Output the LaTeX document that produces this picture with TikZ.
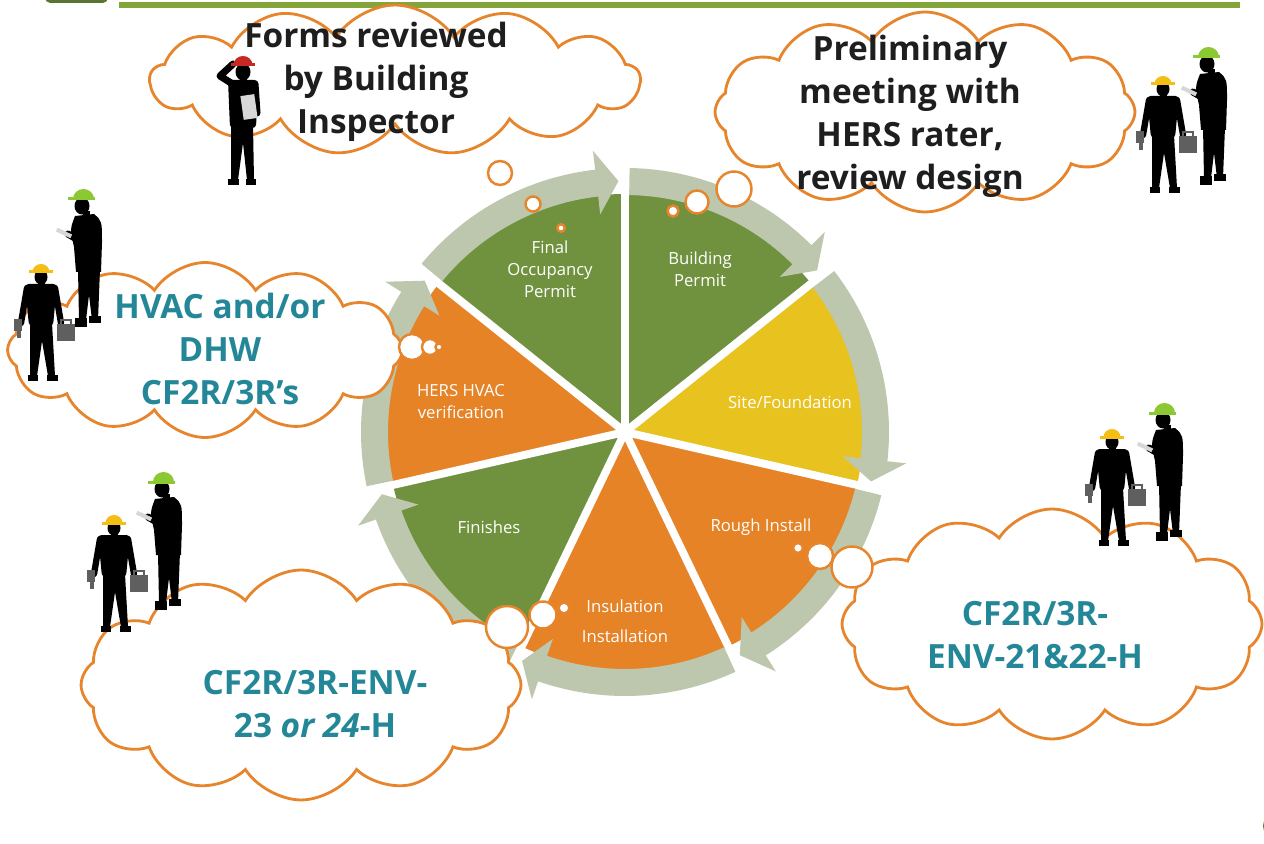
\documentclass[tikz,border=0pt]{standalone}
\usepackage{fontspec}
\setmainfont{Open Sans}
\usetikzlibrary{shapes.symbols, calc}
\definecolor{piegreen}{RGB}{112,146,62}
\definecolor{pieorange}{RGB}{229,131,38}
\definecolor{pieyellow}{RGB}{232,194,30}
\definecolor{ringgray}{RGB}{189,199,173}
\definecolor{cloudorange}{RGB}{231,133,45}
\definecolor{tealink}{RGB}{36,135,152}
\definecolor{inkblack}{RGB}{30,30,30}
\definecolor{topgreen}{RGB}{131,165,58}
\definecolor{logogreen}{RGB}{88,118,48}
\definecolor{hatyellow}{RGB}{245,190,20}
\definecolor{hatgreen}{RGB}{140,200,50}
\definecolor{hatred}{RGB}{200,40,35}
\definecolor{toolgray}{RGB}{95,95,95}
\definecolor{papergray}{RGB}{215,215,215}

\begin{document}
\begin{tikzpicture}[
    x=0.02cm, y=-0.02cm,
    thought/.style={cloud, cloud puffs=12, cloud puff arc=115, cloud ignores aspect, draw=cloudorange, line width=1.6pt, fill=white, inner sep=0pt},
    bubble/.style={circle, draw=cloudorange, line width=1.4pt, fill=white, inner sep=0pt},
    pielabel/.style={text=white, font=\fontsize{9.5}{12.5}\selectfont, align=center},
    cloudtext/.style={font=\fontsize{19}{24.5}\selectfont\bfseries, align=center, text=inkblack},
    formtext/.style={cloudtext, text=tealink},
    % side view, tablet in hand
    pics/foreman/.style={code={
        \fill (-9,-58) -- (13,-58) -- (11,-7) -- (5,-7) -- (2,-32) -- (-1,-7) -- (-8,-7) -- cycle;
        \fill (-12,-9) rectangle (0,0);
        \fill (2,-11) rectangle (14,-4);
        \fill (-12,-111) .. controls (-17,-98) .. (-13,-80) -- (-11,-55) -- (14,-55) -- (15,-85) .. controls (15,-106) .. (7,-113) -- cycle;
        \draw[line width=4pt, line cap=round, line join=round] (-4,-106) -- (-7,-86) -- (-19,-93);
        \fill[papergray, rotate around={-25:(-23,-94)}] (-31,-96) rectangle (-15,-92);
        \fill (-4,-116) rectangle (3,-108);
        \fill (-5,-121) ellipse [x radius=7.5, y radius=8.5];
        \fill[#1] (-14,-128) arc [start angle=180, end angle=360, x radius=10.5, y radius=10] -- cycle;
        \fill[#1] (-19,-129.5) rectangle (8,-126.5);
    }},
    % front view, drill and toolbox
    pics/laborer/.style={code={
        \fill (-11,-58) -- (11,-58) -- (14,-5) -- (7,-5) -- (1,-40) -- (-4,-5) -- (-11,-5) -- cycle;
        \fill (-13,-6) rectangle (-3,0);
        \fill (6,-6) rectangle (17,0);
        \fill[rounded corners=2pt] (-16,-97) -- (16,-97) -- (12,-55) -- (-12,-55) -- cycle;
        \draw[line width=3.6pt, line cap=round] (-14,-93) -- (-20,-58);
        \draw[line width=3.6pt, line cap=round] (14,-93) -- (20,-58);
        \fill[toolgray] (-27,-62) rectangle (-19,-50);
        \fill[toolgray] (-24,-51) rectangle (-20,-43);
        \fill[toolgray] (16,-57) rectangle (34,-40);
        \draw[toolgray, line width=1pt] (20,-57) -- (20,-61) -- (30,-61) -- (30,-57);
        \fill (-3.5,-102) rectangle (3.5,-95);
        \fill (0,-104) ellipse [x radius=6.5, y radius=7.5];
        \fill[#1] (-8.5,-109) arc [start angle=180, end angle=360, x radius=8.5, y radius=8] -- cycle;
        \fill[#1] (-12,-110.5) rectangle (12,-107.5);
    }},
    % scratching head, papers under arm
    pics/inspector/.style={code={
        \fill (-12,-60) -- (10,-60) -- (11,-5) -- (4,-5) -- (0,-42) -- (-5,-5) -- (-12,-5) -- cycle;
        \fill (-15,-6) rectangle (-4,0);
        \fill (3,-6) rectangle (13,0);
        \fill[rounded corners=2pt] (-15,-105) -- (15,-105) -- (13,-57) -- (-13,-57) -- cycle;
        \draw[line width=4pt, line cap=round, line join=round] (-12,-102) -- (-23,-109) -- (-10,-121);
        \draw[line width=4pt, line cap=round] (12,-101) -- (14,-72);
        \fill[papergray, rotate around={8:(6,-78)}] (-1,-90) rectangle (13,-66);
        \fill (-3.5,-109) rectangle (3.5,-102);
        \fill (0,-113) ellipse [x radius=7.5, y radius=8.5];
        \fill[#1] (-9.5,-120) arc [start angle=180, end angle=360, x radius=9.5, y radius=9] -- cycle;
        \fill[#1] (-12,-121.5) rectangle (12,-118.5);
    }}
]
\useasboundingbox (0,0) rectangle (1264,844);
\clip (0,0) rectangle (1264,844);

% header
\fill[logogreen, rounded corners=3pt] (45,-20) rectangle (108,3);
\fill[topgreen] (119,2) rectangle (1240,8);
\fill[logogreen] (1276,826) circle (13);

% Cycle: wedges, gaps, ring arrows
\begin{scope}[shift={(625,432)}, yscale=-1]
  \foreach \col [count=\i from 0] in {piegreen, pieyellow, pieorange, pieorange, piegreen, pieorange, piegreen} {
    \pgfmathsetmacro\a{90-51.4286*\i}
    \fill[\col] (0,0) -- (\a:238) arc [start angle=\a, delta angle=-51.4286, radius=238] -- cycle;
  }
  \foreach \i in {0,...,6} {
    \pgfmathsetmacro\a{90-51.4286*\i}
    \draw[white, line width=4.5pt] (0,0) -- (\a:240);
  }
  \foreach \i in {0,...,6} {
    \pgfmathsetmacro\s{90-51.4286*\i-1}
    \pgfmathsetmacro\t{90-51.4286*(\i+1)+1.5}
    \pgfmathsetmacro\h{\t+5}
    \fill[ringgray] (\s:237) arc [start angle=\s, end angle=\h, radius=237] -- (\h:219) -- (\t:251) -- (\h:283) -- (\h:264) arc [start angle=\h, end angle=\s, radius=264] -- cycle;
  }
\end{scope}

% Stage labels
\node[pielabel] (final) at (550,269) {Final\\Occupancy\\Permit};
\node[pielabel] (permit) at (700,269) {Building\\Permit};
\node[pielabel] (site) at (790,402) {Site/Foundation};
\node[pielabel] (rough) at (761,527) {Rough Install};
\node[pielabel] (insul) at (625,621) {Insulation\\[4.5pt]Installation};
\node[pielabel] (finish) at (489,527) {Finishes};
\node[pielabel] (hers) at (461,402) {HERS HVAC\\verification};

% Thought clouds
\node[thought, cloud puffs=13, minimum width=9.8cm, minimum height=3.0cm] (cinspect) at (395,80) {};
\node[thought, minimum width=8.4cm, minimum height=4.0cm] (cprelim) at (925,112) {};
\node[thought, minimum width=7.9cm, minimum height=3.5cm] (chvac) at (205,350) {};
\node[thought, minimum width=8.4cm, minimum height=4.6cm] (cenvA) at (1052,624) {};
\node[thought, minimum width=8.8cm, minimum height=4.6cm] (cenvB) at (301,685) {};

% bubbles leading to the wedges
\node[bubble, minimum size=0.48cm] (bi1) at (500,173) {};
\node[bubble, minimum size=0.3cm] (bi2) at (533,204) {};
\node[bubble, minimum size=0.15cm] (bi3) at (561,228) {};
\node[bubble, minimum size=0.7cm] (bp1) at (734,189) {};
\node[bubble, minimum size=0.46cm] (bp2) at (697,202) {};
\node[bubble, minimum size=0.22cm] (bp3) at (673,211) {};
\node[bubble, minimum size=0.52cm] (bh1) at (412,347) {};
\node[bubble, minimum size=0.32cm] (bh2) at (430,347) {};
\node[bubble, minimum size=0.14cm] (bh3) at (439,347) {};
\node[bubble, minimum size=0.82cm] (ba1) at (852,567) {};
\node[bubble, minimum size=0.52cm] (ba2) at (820,556) {};
\node[bubble, minimum size=0.2cm] (ba3) at (798,548) {};
\node[bubble, minimum size=0.84cm] (bb1) at (507,627) {};
\node[bubble, minimum size=0.54cm] (bb2) at (543,615) {};
\node[bubble, minimum size=0.22cm] (bb3) at (564,608) {};

% Cloud texts
\node[cloudtext] (tinspect) at (376,82) {Forms reviewed\\by Building\\Inspector};
\node[cloudtext] (tprelim) at (910,116) {Preliminary\\meeting with\\HERS rater,\\review design};
\node[formtext] (thvac) at (220,349) {HVAC and/or\\DHW\\CF2R/3R’s};
\node[formtext] (tenvA) at (1035,635) {CF2R/3R-\\ENV-21\&22-H};
\node[formtext] (tenvB) at (315,704) {CF2R/3R-ENV-\\23 \textit{or 24}-H};

% People
\pic at (243,185) {inspector=hatred};
\pic at (1163,193) {laborer=hatyellow};
\pic at (1212,185) {foreman=hatgreen};
\pic at (87,327) {foreman=hatgreen};
\pic at (41,381) {laborer=hatyellow};
\pic at (167,610) {foreman=hatgreen};
\pic at (114,632) {laborer=hatyellow};
\pic at (1112,546) {laborer=hatyellow};
\pic at (1168,541) {foreman=hatgreen};

\end{tikzpicture}
\end{document}
